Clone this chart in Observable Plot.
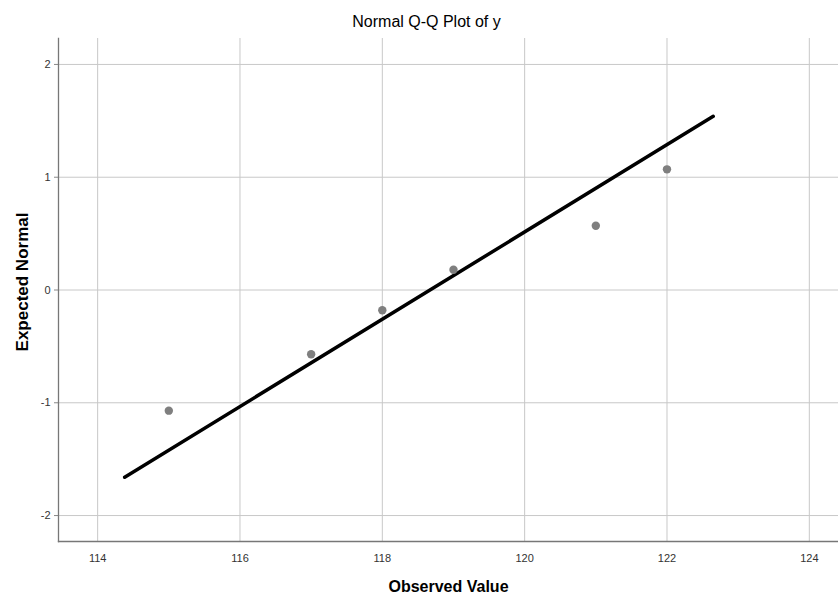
<!DOCTYPE html>
<html><head><meta charset="utf-8">
<script src="https://cdn.jsdelivr.net/npm/d3@7"></script>
<script src="https://cdn.jsdelivr.net/npm/@observablehq/plot@0.6"></script>
<style>body{margin:0;background:#fff;} svg{display:block;}</style>
</head><body><div id="chart"></div>
<script>
const observed = [115, 117, 118, 119, 121, 122];
const expected = [-1.07, -0.57, -0.18, 0.18, 0.57, 1.07];
const refLineX = [114.38, 122.65];
const refLineY = [-1.66, 1.54];
const xTicks = [114, 116, 118, 120, 122, 124];
const yTicks = [-2, -1, 0, 1, 2];
const titleText = "Normal Q-Q Plot of y";
const xLabel = "Observed Value";
const yLabel = "Expected Normal";

const pts = observed.map((x, i) => ({x, y: expected[i]}));
const ref = refLineX.map((x, i) => ({x, y: refLineY[i]}));
const narrow = "'Liberation Sans Narrow', 'Arial Narrow', 'Liberation Sans', sans-serif";
const plain = d => String(d);

const chart = Plot.plot({
  width: 838, height: 600,
  marginLeft: 58, marginRight: 0, marginTop: 38, marginBottom: 59,
  style: {fontFamily: narrow, fontSize: "11px", color: "#333", background: "#fff"},
  x: {domain: [113.45, 124.41]},
  y: {domain: [-2.23, 2.23]},
  marks: [
    Plot.gridX(xTicks, {stroke: "#c8c8c8", strokeOpacity: 1, strokeWidth: 1}),
    Plot.gridY(yTicks, {stroke: "#c8c8c8", strokeOpacity: 1, strokeWidth: 1}),
    Plot.axisX(xTicks, {tickSize: 0, tickPadding: 13, label: null, fontSize: 11, tickFormat: plain}),
    Plot.axisY(yTicks, {tickSize: 4, tickPadding: 4, label: null, fontSize: 11, stroke: "#888", tickFormat: plain}),
    Plot.frame({anchor: "left", stroke: "#777", strokeWidth: 1.3}),
    Plot.frame({anchor: "bottom", stroke: "#777", strokeWidth: 1.3}),
    Plot.line(ref, {x: "x", y: "y", stroke: "#000", strokeWidth: 3.5}),
    Plot.dot(pts, {x: "x", y: "y", r: 4.2, fill: "#7f7f7f", stroke: "none"}),
    Plot.text([titleText], {frameAnchor: "top", dy: -23, dx: -22, fontSize: 16, fill: "#000", fontFamily: narrow}),
    Plot.text([xLabel], {frameAnchor: "bottom", dy: 50, fontSize: 16, fontWeight: "bold", fill: "#000", fontFamily: narrow}),
    Plot.text([yLabel], {frameAnchor: "left", textAnchor: "middle", dx: -36, dy: -8, rotate: -90, fontSize: 17, fontWeight: "bold", fill: "#000", fontFamily: "'Liberation Sans', Arial, sans-serif"})
  ]
});
document.getElementById("chart").appendChild(chart);
</script>
</body></html>
